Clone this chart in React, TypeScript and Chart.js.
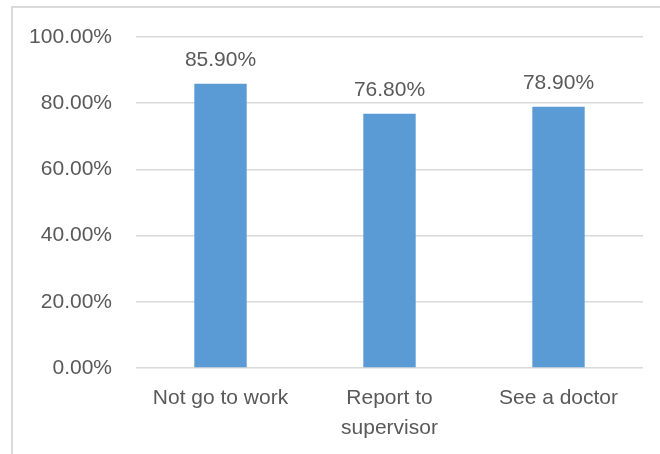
import React, { useEffect, useRef } from "react";
import { Chart, registerables } from "chart.js";

Chart.register(...registerables);

const categories: (string | string[])[] = ["Not go to work", ["Report to", "supervisor"], "See a doctor"];
const values: number[] = [0.859, 0.768, 0.789];
const dataLabels: string[] = ["85.90%", "76.80%", "78.90%"];

const FONT = "'Liberation Sans', Arial, sans-serif";
const TEXT = "#595959";

const labelPlugin = {
  id: "barLabels",
  afterDatasetsDraw(chart: any) {
    const ctx = chart.ctx;
    const meta = chart.getDatasetMeta(0);
    ctx.save();
    ctx.font = `21px ${FONT}`;
    ctx.fillStyle = TEXT;
    ctx.textAlign = "center";
    ctx.textBaseline = "alphabetic";
    meta.data.forEach((bar: any, i: number) => {
      ctx.fillText(dataLabels[i], bar.x, bar.y - 18);
    });
    ctx.restore();
  },
};

export default function App() {
  const ref = useRef<HTMLCanvasElement>(null);
  useEffect(() => {
    if (!ref.current) return;
    const chart = new Chart(ref.current, {
      type: "bar",
      data: {
        labels: categories as any,
        datasets: [
          {
            data: values,
            backgroundColor: "#5B9BD5",
            barPercentage: 0.31,
            categoryPercentage: 1.0,
          },
        ],
      },
      options: {
        animation: false,
        responsive: false,
        maintainAspectRatio: false,
        layout: { padding: { left: 0, right: 17, top: 37, bottom: 0 } },
        plugins: { legend: { display: false }, tooltip: { enabled: false } },
        scales: {
          x: {
            grid: { display: false, drawTicks: false },
            border: { display: false },
            ticks: {
              color: TEXT,
              font: { family: FONT, size: 21, lineHeight: 1.43 },
              padding: 15,
              maxRotation: 0,
              autoSkip: false,
            },
            afterFit(scale: any) {
              scale.height = 86;
            },
          },
          y: {
            min: 0,
            max: 1,
            grid: { color: "#d9d9d9", lineWidth: 1.5, drawTicks: false },
            border: { display: false },
            ticks: {
              stepSize: 0.2,
              color: TEXT,
              font: { family: FONT, size: 21 },
              padding: 24,
              callback: (v: any) => (Number(v) * 100).toFixed(2) + "%",
            },
            afterFit(scale: any) {
              scale.width = 136;
            },
          },
        },
      },
      plugins: [labelPlugin],
    });
    return () => chart.destroy();
  }, []);

  return (
    <div style={{ position: "fixed", left: 0, top: 0, width: 660, height: 454, background: "#fff", overflow: "hidden" }}>
      <div
        style={{
          position: "absolute",
          left: 11,
          top: 6,
          width: 700,
          height: 600,
          border: "2px solid #d9d9d9",
          boxSizing: "border-box",
        }}
      />
      <canvas ref={ref} width={660} height={454} style={{ position: "absolute", left: 0, top: 0 }} />
    </div>
  );
}
